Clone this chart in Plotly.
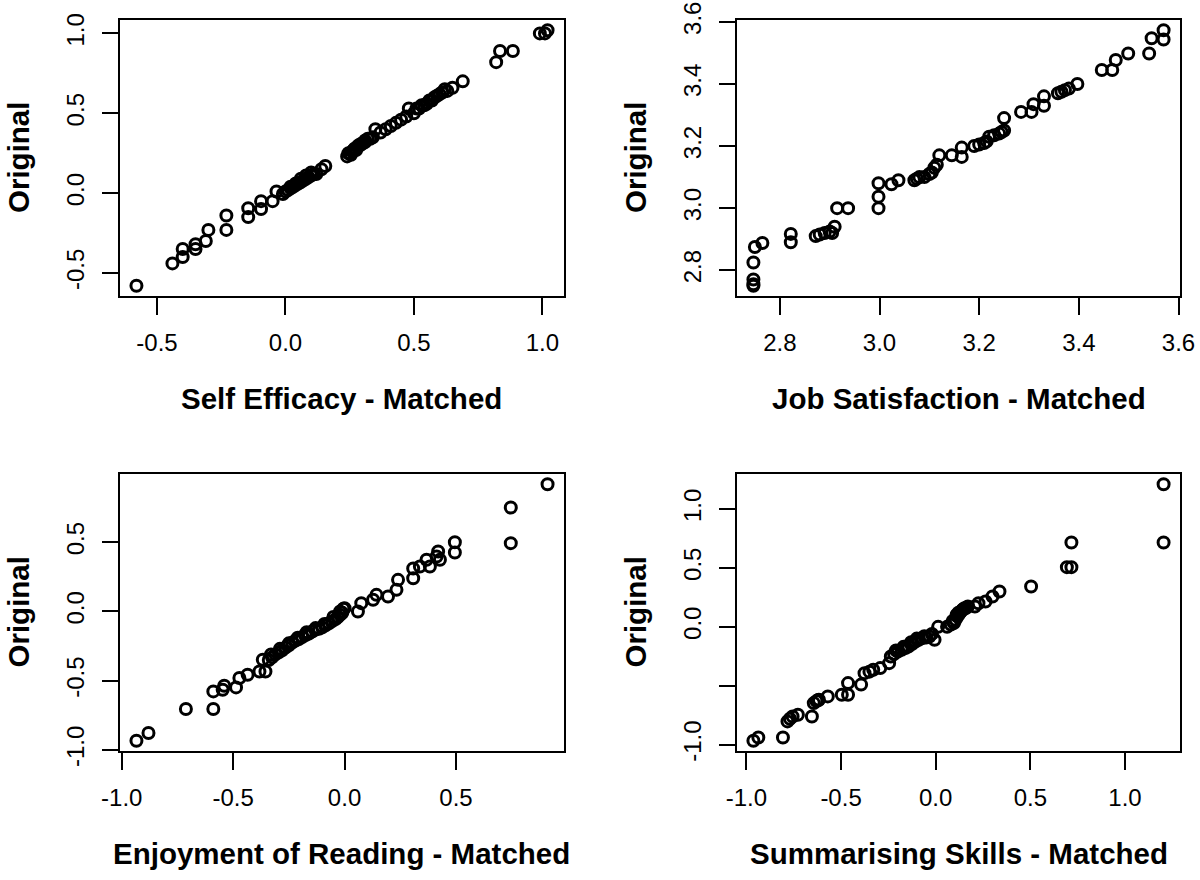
import plotly.graph_objects as go

# ---------------- data ----------------
se_matched = [-0.58, -0.44, -0.40, -0.40, -0.35, -0.35, -0.31, -0.30, -0.23, -0.23,
              -0.145, -0.145, -0.095, -0.095, -0.05, -0.035, -0.01, 0.0, 0.01, 0.02,
              0.03, 0.04, 0.05, 0.06, 0.07, 0.08, 0.09, 0.10, 0.12, 0.14,
              0.155, 0.24, 0.25, 0.26, 0.27, 0.28, 0.29, 0.30, 0.31, 0.32,
              0.34, 0.35, 0.37, 0.39, 0.41, 0.43, 0.45, 0.47, 0.48, 0.50,
              0.52, 0.54, 0.55, 0.57, 0.58, 0.60, 0.62, 0.63, 0.65, 0.69,
              0.82, 0.835, 0.885, 0.99, 1.01, 1.02,
              0.02, 0.04, 0.06, 0.08, 0.10, 0.11, 0.245, 0.255, 0.265, 0.275,
              0.285, 0.295, 0.31, 0.33, 0.51, 0.53, 0.56, 0.59, 0.61]
se_original = [-0.58, -0.44, -0.40, -0.35, -0.35, -0.32, -0.30, -0.23, -0.23, -0.14,
               -0.15, -0.095, -0.10, -0.05, -0.05, 0.01, -0.005, 0.01, 0.02, 0.03,
               0.04, 0.05, 0.06, 0.07, 0.08, 0.09, 0.10, 0.11, 0.12, 0.15,
               0.17, 0.23, 0.25, 0.26, 0.28, 0.29, 0.30, 0.31, 0.32, 0.34,
               0.35, 0.40, 0.38, 0.40, 0.42, 0.44, 0.46, 0.48, 0.53, 0.50,
               0.53, 0.55, 0.56, 0.58, 0.60, 0.62, 0.65, 0.64, 0.66, 0.70,
               0.82, 0.89, 0.89, 1.00, 1.00, 1.02,
               0.04, 0.06, 0.09, 0.11, 0.13, 0.12, 0.25, 0.24, 0.27, 0.27,
               0.30, 0.31, 0.33, 0.34, 0.53, 0.55, 0.58, 0.61, 0.63]

js_matched = [2.747, 2.747, 2.747, 2.747, 2.75, 2.765, 2.822, 2.822, 2.872, 2.88,
              2.89, 2.90, 2.905, 2.91, 2.915, 2.937, 2.998, 2.998, 2.998, 3.024,
              3.038, 3.07, 3.075, 3.08, 3.09, 3.10, 3.105, 3.11, 3.115, 3.12,
              3.145, 3.165, 3.165, 3.19, 3.20, 3.21, 3.215, 3.22, 3.23, 3.24,
              3.245, 3.25, 3.25, 3.284, 3.305, 3.309, 3.33, 3.33, 3.358, 3.365,
              3.372, 3.38, 3.397, 3.446, 3.467, 3.474, 3.499, 3.541, 3.546, 3.57,
              3.57]
js_original = [2.75, 2.755, 2.77, 2.825, 2.875, 2.888, 2.89, 2.917, 2.91, 2.915,
               2.92, 2.925, 2.92, 2.94, 3.0, 3.0, 3.0, 3.037, 3.08, 3.077,
               3.09, 3.09, 3.095, 3.10, 3.10, 3.11, 3.115, 3.13, 3.14, 3.17,
               3.17, 3.165, 3.195, 3.20, 3.205, 3.21, 3.215, 3.23, 3.235, 3.24,
               3.245, 3.25, 3.29, 3.31, 3.31, 3.335, 3.33, 3.36, 3.37, 3.375,
               3.38, 3.385, 3.40, 3.445, 3.445, 3.477, 3.498, 3.498, 3.547, 3.543,
               3.573]

er_matched = [-0.934, -0.88, -0.712, -0.589, -0.589, -0.547, -0.54, -0.487, -0.472, -0.435,
              -0.382, -0.355, -0.367, -0.34, -0.325, -0.31, -0.295, -0.28, -0.265, -0.25,
              -0.235, -0.22, -0.205, -0.19, -0.175, -0.16, -0.145, -0.13, -0.115, -0.10,
              -0.085, -0.07, -0.055, -0.04, -0.03, -0.02, -0.01, 0.0, 0.06, 0.075,
              0.128, 0.143, 0.195, 0.233, 0.24, 0.308, 0.308, 0.338, 0.368, 0.383,
              0.413, 0.42, 0.428, 0.495, 0.495, 0.746, 0.746, 0.911,
              -0.33, -0.29, -0.25, -0.21, -0.17, -0.13, -0.09, -0.05, -0.02, -0.005]
er_original = [-0.933, -0.877, -0.704, -0.704, -0.577, -0.565, -0.536, -0.548, -0.48, -0.457,
               -0.433, -0.433, -0.349, -0.35, -0.33, -0.31, -0.295, -0.28, -0.26, -0.245,
               -0.225, -0.21, -0.20, -0.185, -0.17, -0.16, -0.145, -0.13, -0.125, -0.115,
               -0.10, -0.085, -0.07, -0.055, -0.04, -0.025, -0.01, 0.024, 0.0, 0.06,
               0.084, 0.12, 0.108, 0.156, 0.228, 0.24, 0.31, 0.325, 0.373, 0.325,
               0.397, 0.433, 0.373, 0.425, 0.50, 0.493, 0.75, 0.918,
               -0.31, -0.27, -0.23, -0.19, -0.15, -0.12, -0.09, -0.04, 0.0, 0.02]

ss_matched = [-0.963, -0.937, -0.807, -0.783, -0.77, -0.756, -0.728, -0.654, -0.644, -0.63,
              -0.617, -0.57, -0.496, -0.463, -0.463, -0.394, -0.376, -0.35, -0.33, -0.293,
              -0.246, -0.237, -0.22, -0.20, -0.18, -0.16, -0.144, -0.125, -0.107, -0.09,
              -0.07, -0.05, -0.033, -0.006, 0.013, 0.06, 0.08, 0.096, 0.105, 0.115,
              0.125, 0.133, 0.145, 0.152, 0.17, 0.207, 0.226, 0.263, 0.30, 0.337,
              0.504, 0.693, 0.717, 0.717, 1.204, 1.204,
              -0.21, -0.17, -0.13, -0.10, -0.06, -0.02, 0.09, 0.11, 0.12, 0.14, 0.16, -0.62]
ss_original = [-0.966, -0.938, -0.938, -0.802, -0.78, -0.76, -0.746, -0.76, -0.647, -0.63,
               -0.619, -0.59, -0.576, -0.576, -0.477, -0.49, -0.393, -0.38, -0.364, -0.35,
               -0.308, -0.251, -0.23, -0.21, -0.195, -0.18, -0.167, -0.145, -0.124, -0.11,
               -0.096, -0.09, -0.082, -0.11, 0.0, 0.0, 0.02, 0.031, 0.06, 0.088,
               0.11, 0.13, 0.15, 0.158, 0.172, 0.172, 0.20, 0.215, 0.257, 0.30,
               0.342, 0.506, 0.506, 0.715, 0.715, 1.209,
               -0.20, -0.17, -0.13, -0.10, -0.08, -0.06, 0.05, 0.10, 0.12, 0.14, 0.16, -0.62]

panel_titles = ["Self Efficacy - Matched", "Job Satisfaction - Matched",
                "Enjoyment of Reading - Matched", "Summarising Skills - Matched"]
y_title = "Original"

x_ticks = [[-0.5, 0.0, 0.5, 1.0], [2.8, 3.0, 3.2, 3.4, 3.6],
           [-1.0, -0.5, 0.0, 0.5], [-1.0, -0.5, 0.0, 0.5, 1.0]]
y_ticks = [[-0.5, 0.0, 0.5, 1.0], [2.8, 3.0, 3.2, 3.4, 3.6],
           [-1.0, -0.5, 0.0, 0.5], [-1.0, -0.5, 0.0, 0.5, 1.0]]
y_ticktext_4 = ["-1.0", "", "0.0", "0.5", "1.0"]

panels = [(se_matched, se_original), (js_matched, js_original),
          (er_matched, er_original), (ss_matched, ss_original)]

# ---------------- layout geometry ----------------
W, H = 1200, 880
col_x = [(120, 564), (737, 1180)]
row_y = [(20, 296), (474, 751)]

FONT = "Liberation Sans, Arial, Helvetica, sans-serif"


def rrange(v):
    lo, hi = min(v), max(v)
    pad = (hi - lo) * 0.04
    return [lo - pad, hi + pad]


fig = go.Figure()
layout = dict(width=W, height=H, margin=dict(l=0, r=0, t=0, b=0, autoexpand=False),
              plot_bgcolor="white", paper_bgcolor="white",
              showlegend=False, font=dict(family=FONT, color="black"))
annotations = []

for i, (xs, ys) in enumerate(panels):
    r, c = divmod(i, 2)
    x0, x1 = col_x[c]
    y0, y1 = row_y[r]
    n = "" if i == 0 else str(i + 1)
    fig.add_trace(go.Scatter(
        x=xs, y=ys, mode="markers", xaxis="x" + n, yaxis="y" + n,
        marker=dict(symbol="circle-open", size=11, color="black",
                    line=dict(width=3, color="black")),
        hoverinfo="x+y"))
    yt_text = y_ticktext_4 if i == 3 else ["%.1f" % v for v in y_ticks[i]]
    common = dict(showgrid=False, zeroline=False, showline=True, mirror=True,
                  linecolor="black", linewidth=2, ticks="outside",
                  tickcolor="black", tickwidth=2, automargin=False,
                  tickfont=dict(family=FONT, size=24, color="black"))
    layout["xaxis" + n] = dict(
        common, domain=[x0 / W, x1 / W], anchor="y" + n,
        range=rrange(xs), tickvals=x_ticks[i],
        ticktext=["%.1f" % v for v in x_ticks[i]], ticklen=17,
        ticklabelstandoff=7)
    layout["yaxis" + n] = dict(
        common, domain=[1 - y1 / H, 1 - y0 / H], anchor="x" + n,
        range=rrange(ys), tickvals=y_ticks[i], ticktext=yt_text,
        ticklen=16, tickangle=-90, ticklabelstandoff=8)
    # axis titles
    annotations.append(dict(
        text="<b>%s</b>" % panel_titles[i], xref="paper", yref="paper",
        x=(x0 + x1) / 2 / W, y=1 - (y1 + 102) / H, xanchor="center",
        yanchor="middle", showarrow=False,
        font=dict(family=FONT, size=29.5, color="black")))
    annotations.append(dict(
        text="<b>%s</b>" % y_title, xref="paper", yref="paper",
        x=(x0 - 102) / W, y=1 - (y0 + y1) / 2 / H, xanchor="center",
        yanchor="middle", textangle=-90, showarrow=False,
        font=dict(family=FONT, size=29.5, color="black")))

layout["annotations"] = annotations
fig.update_layout(**layout)
fig.write_html("out.html", config={"displayModeBar": False},
               post_script="document.body.style.margin='0';"
                           "document.body.style.overflow='hidden';")
